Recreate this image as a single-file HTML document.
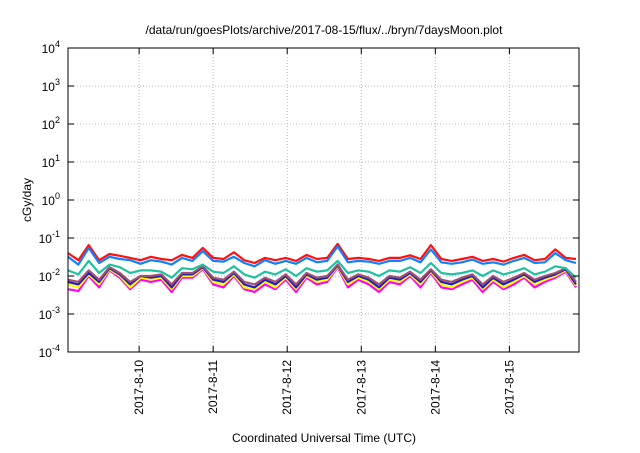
<!DOCTYPE html>
<html><head><meta charset="utf-8"><style>
body{margin:0;background:#fff}
svg text{font-family:"Liberation Sans",sans-serif;fill:#000}
</style></head><body>
<svg id="c" width="640" height="448" xmlns="http://www.w3.org/2000/svg">
<text x="324" y="34" font-size="12" text-anchor="middle">/data/run/goesPlots/archive/2017-08-15/flux/../bryn/7daysMoon.plot</text>
<text transform="translate(31,200) rotate(-90)" font-size="12" text-anchor="middle">cGy/day</text>
<text x="324" y="442" font-size="12" text-anchor="middle">Coordinated Universal Time (UTC)</text>
<g id="grid"></g><g id="series"></g><g id="axes"></g>
</svg>
<script>
const xTicks=[10,11,12,13,14,15];
const xTickLabels=["2017-8-10","2017-8-11","2017-8-12","2017-8-13","2017-8-14","2017-8-15"];
const yTicks=[4,3,2,1,0,-1,-2,-3,-4];
const times=[];for(let i=0;i<50;i++)times.push(9.04+i*0.14);
const red=[0.04,0.026,0.065,0.026,0.038,0.034,0.03,0.026,0.032,0.028,0.026,0.036,0.03,0.055,0.03,0.028,0.042,0.026,0.022,0.03,0.026,0.03,0.025,0.036,0.028,0.03,0.07,0.028,0.03,0.028,0.025,0.03,0.03,0.035,0.028,0.065,0.028,0.025,0.028,0.032,0.025,0.028,0.024,0.03,0.036,0.026,0.028,0.05,0.03,0.028];
const blue=[0.032,0.02,0.055,0.022,0.032,0.028,0.026,0.021,0.026,0.024,0.02,0.03,0.025,0.045,0.025,0.024,0.032,0.022,0.018,0.026,0.021,0.025,0.021,0.03,0.023,0.025,0.06,0.023,0.025,0.024,0.021,0.025,0.025,0.03,0.023,0.05,0.023,0.021,0.023,0.027,0.021,0.023,0.02,0.025,0.03,0.022,0.023,0.04,0.026,0.022];
const teal=[0.014,0.011,0.025,0.012,0.02,0.017,0.012,0.014,0.014,0.013,0.009,0.016,0.015,0.02,0.013,0.012,0.018,0.011,0.009,0.013,0.011,0.015,0.01,0.016,0.013,0.014,0.025,0.012,0.014,0.013,0.01,0.014,0.013,0.017,0.012,0.022,0.012,0.011,0.012,0.014,0.01,0.014,0.011,0.013,0.016,0.011,0.013,0.018,0.016,0.009];
const purple=[0.008,0.007,0.014,0.008,0.017,0.012,0.007,0.01,0.01,0.011,0.006,0.012,0.012,0.018,0.009,0.008,0.013,0.007,0.006,0.009,0.007,0.011,0.006,0.012,0.009,0.01,0.02,0.008,0.011,0.009,0.006,0.01,0.009,0.013,0.008,0.015,0.008,0.007,0.009,0.011,0.006,0.01,0.007,0.009,0.012,0.008,0.01,0.012,0.016,0.007];
const navy=[0.007,0.006,0.012,0.007,0.016,0.011,0.006,0.01,0.009,0.01,0.005,0.011,0.011,0.017,0.008,0.007,0.012,0.006,0.005,0.008,0.006,0.01,0.005,0.011,0.008,0.009,0.019,0.007,0.01,0.008,0.005,0.009,0.008,0.012,0.007,0.014,0.007,0.006,0.008,0.01,0.005,0.009,0.006,0.008,0.011,0.007,0.009,0.011,0.015,0.006];
const yellow=[0.006,0.005,0.011,0.006,0.015,0.01,0.005,0.009,0.008,0.009,0.0045,0.01,0.01,0.016,0.007,0.006,0.011,0.005,0.0045,0.007,0.005,0.009,0.0045,0.01,0.007,0.008,0.018,0.006,0.009,0.007,0.0045,0.008,0.007,0.011,0.006,0.013,0.006,0.005,0.007,0.009,0.0045,0.008,0.005,0.007,0.01,0.006,0.008,0.01,0.014,0.0055];
const magenta=[0.0045,0.004,0.01,0.005,0.014,0.009,0.0045,0.008,0.007,0.008,0.0038,0.009,0.009,0.015,0.006,0.005,0.01,0.0045,0.0038,0.006,0.0045,0.008,0.0038,0.009,0.006,0.007,0.017,0.005,0.008,0.006,0.0038,0.007,0.006,0.01,0.005,0.012,0.005,0.0045,0.006,0.008,0.0038,0.007,0.0045,0.006,0.009,0.005,0.007,0.009,0.013,0.005];
const L=68,R=579,T=48,B=352,X0=9.04,X1=15.94;
const sx=t=>L+(t-X0)/(X1-X0)*(R-L);
const sy=v=>T+(4-Math.log10(v))/8*(B-T);
const NS="http://www.w3.org/2000/svg";
function mk(tag,attrs,parent){const e=document.createElementNS(NS,tag);for(const k in attrs)e.setAttribute(k,attrs[k]);parent.appendChild(e);return e;}
const grid=document.getElementById('grid'),axes=document.getElementById('axes'),ser=document.getElementById('series');
xTicks.forEach((d,i)=>{const x=sx(d);
 const g=mk('line',{x1:x,x2:x,y1:T,y2:B,stroke:'#bbb','stroke-dasharray':'1,2'},grid);
 
 mk('line',{x1:x,x2:x,y1:B,y2:B-6,stroke:'#000'},axes);mk('line',{x1:x,x2:x,y1:T,y2:T+6,stroke:'#000'},axes);
 const t=mk('text',{transform:`translate(${x+4},${B+8}) rotate(-90)`,'font-size':'12','text-anchor':'end'},axes);t.textContent=xTickLabels[i];
 });
yTicks.forEach(p=>{const y=sy(Math.pow(10,p));
 if(p<4&&p>-4){const g=mk('line',{x1:L,x2:R,y1:y,y2:y,stroke:'#bbb','stroke-dasharray':'1,2'},grid);
 }
 mk('line',{x1:L,x2:L+6,y1:y,y2:y,stroke:'#000'},axes);mk('line',{x1:R,x2:R-6,y1:y,y2:y,stroke:'#000'},axes);
 const t=mk('text',{x:L-8,y:y+5,'font-size':'12','text-anchor':'end'},axes);
 t.innerHTML='10<tspan dy="-6" font-size="9">'+p+'</tspan>';
 });
const fr=mk('rect',{x:L,y:T,width:R-L,height:B-T,fill:'none',stroke:'#000'},axes);

const list=[[magenta,'#ff00ff','magenta'],[yellow,'#ffff00','yellow'],[navy,'#2020c0','navy'],[purple,'#a05070','purple'],[teal,'#20c0a0','teal'],[red,'#ff1010','red'],[blue,'#1080ff','blue']];
list.forEach(([arr,c,n])=>{const d=arr.map((v,i)=>(i?'L':'M')+sx(times[i]).toFixed(1)+','+sy(v).toFixed(1)).join('');
 const p=mk('path',{d:d,fill:'none',stroke:c,'stroke-width':'2.2','stroke-linejoin':'round'},ser);
 });
</script>
</body></html>
